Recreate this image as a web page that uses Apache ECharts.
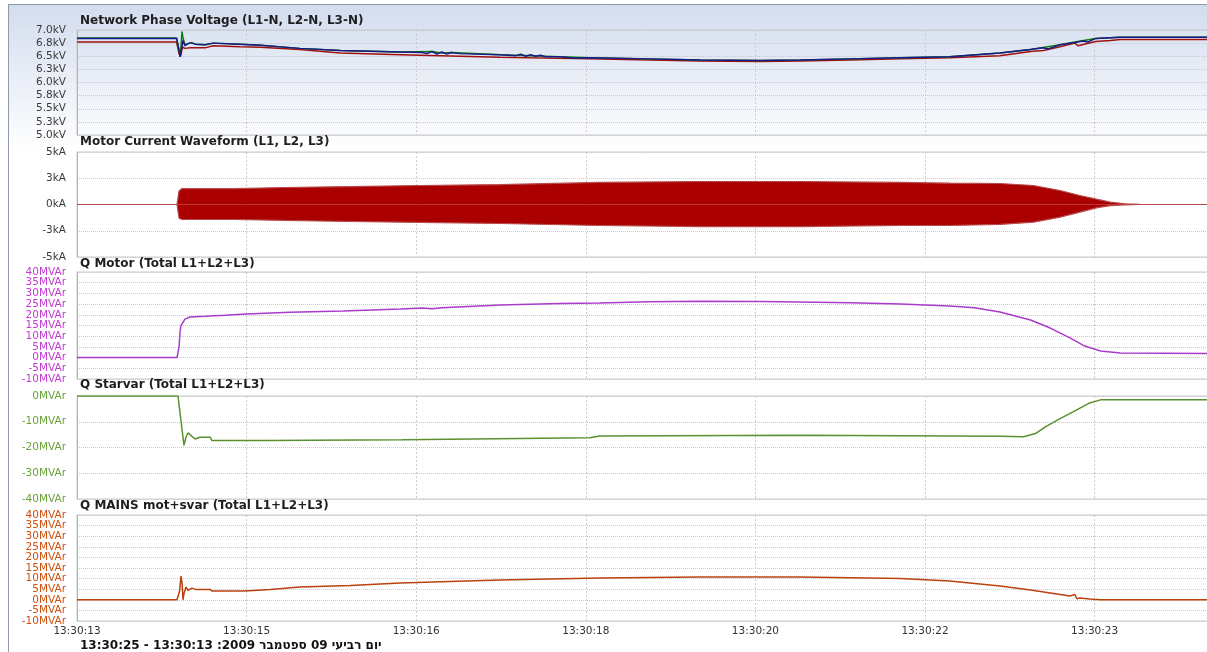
<!DOCTYPE html>
<html><head><meta charset="utf-8">
<script src="https://cdn.jsdelivr.net/npm/echarts@6/dist/echarts.min.js"></script>
<style>html,body{margin:0;padding:0;background:#fff}#c{width:1207px;height:652px}</style>
</head><body><div id="c"></div>
<script>
// ---------- axis / tick data ----------
const xTickLabels = ['13:30:13','13:30:15','13:30:16','13:30:18','13:30:20','13:30:22','13:30:23'];
const xTickStep = 1.72;      // seconds between labelled ticks
const xMax = 11.48;          // seconds shown
const voltTickLabels = ['5.0kV','5.3kV','5.5kV','5.8kV','6.0kV','6.3kV','6.5kV','6.8kV','7.0kV'];
const curTickLabels = ['-5kA','-3kA','0kA','3kA','5kA'];
const panelTitles = [
  'Network Phase Voltage (L1-N, L2-N, L3-N)',
  'Motor Current Waveform (L1, L2, L3)',
  'Q Motor (Total L1+L2+L3)',
  'Q Starvar (Total L1+L2+L3)',
  'Q MAINS mot+svar (Total L1+L2+L3)'
];
const footerText = 'יום רביעי 09 ספטמבר 2009: 13:30:13 - 13:30:25';

// ---------- series data (time in s from 13:30:13) ----------
const vL1T = [0, 1.01, 1.035, 1.05, 1.065, 1.075, 1.095, 1.126, 1.16, 1.2, 1.3, 1.38, 1.65, 1.86, 2.26, 2.67, 3.28, 3.6, 3.7, 3.8, 4.29, 4.9, 5.2, 5.81, 6.32, 6.93, 7.33, 7.84, 8.35, 8.85, 9.36, 9.67, 9.97, 10.12, 10.33, 10.58, 11.48];
const vL1 = [6.85, 6.85, 6.60, 6.55, 6.97, 6.85, 6.72, 6.74, 6.76, 6.73, 6.72, 6.75, 6.73, 6.71, 6.65, 6.61, 6.58, 6.59, 6.56, 6.57, 6.53, 6.49, 6.47, 6.45, 6.43, 6.42, 6.43, 6.45, 6.47, 6.49, 6.56, 6.63, 6.72, 6.77, 6.84, 6.86, 6.86];
const vL2T = [0, 1.01, 1.035, 1.045, 1.055, 1.075, 1.095, 1.126, 1.156, 1.197, 1.30, 1.38, 1.65, 1.86, 2.26, 2.67, 3.28, 3.50, 3.55, 3.60, 3.65, 3.70, 3.75, 3.80, 3.88, 4.29, 4.45, 4.5, 4.55, 4.6, 4.65, 4.7, 4.75, 4.9, 5.05, 5.2, 5.81, 6.32, 6.93, 7.33, 7.84, 8.35, 8.85, 9.36, 9.67, 9.80, 9.85, 9.97, 10.12, 10.2, 10.25, 10.33, 10.58, 11.48];
const vL2 = [6.84, 6.84, 6.62, 6.49, 6.58, 6.80, 6.70, 6.74, 6.76, 6.73, 6.72, 6.75, 6.73, 6.71, 6.65, 6.61, 6.58, 6.57, 6.55, 6.59, 6.54, 6.58, 6.54, 6.57, 6.55, 6.53, 6.51, 6.54, 6.50, 6.53, 6.50, 6.52, 6.49, 6.49, 6.46, 6.47, 6.45, 6.43, 6.42, 6.43, 6.45, 6.47, 6.49, 6.56, 6.63, 6.66, 6.64, 6.72, 6.76, 6.79, 6.77, 6.84, 6.86, 6.86];
const vL3T = [0, 1.01, 1.035, 1.05, 1.07, 1.095, 1.15, 1.2, 1.3, 1.38, 1.65, 1.86, 2.26, 2.67, 3.28, 4.29, 5.2, 5.81, 6.32, 6.93, 7.33, 7.84, 8.35, 8.85, 9.36, 9.67, 9.8, 9.82, 9.97, 10.12, 10.15, 10.33, 10.48, 10.58, 11.48];
const vL3 = [6.77, 6.77, 6.55, 6.50, 6.68, 6.65, 6.66, 6.66, 6.66, 6.70, 6.68, 6.67, 6.63, 6.56, 6.53, 6.48, 6.45, 6.43, 6.41, 6.40, 6.41, 6.43, 6.45, 6.47, 6.51, 6.59, 6.61, 6.58, 6.68, 6.75, 6.70, 6.78, 6.80, 6.82, 6.82];

const curT = [0, 1.014, 1.024, 1.035, 1.065, 1.60, 1.61, 2.11, 2.77, 3.48, 4.29, 5.30, 6.32, 7.33, 8.35, 8.85, 9.36, 9.70, 9.97, 10.17, 10.35, 10.48, 10.63, 10.78, 11.48];
const curUpper = [0, 0, 0.6, 1.3, 1.52, 1.52, 1.52, 1.62, 1.71, 1.81, 1.90, 2.10, 2.19, 2.19, 2.10, 2.03, 2.0, 1.81, 1.33, 0.86, 0.48, 0.22, 0.07, 0.02, 0];
const curLower = [0, 0, -0.6, -1.3, -1.43, -1.43, -1.52, -1.52, -1.62, -1.71, -1.81, -2.0, -2.10, -2.10, -2.0, -2.0, -1.90, -1.68, -1.21, -0.73, -0.29, -0.10, -0.03, 0, 0];

const qMotT = [0, 1.014, 1.035, 1.045, 1.055, 1.075, 1.095, 1.146, 1.3, 1.5, 1.72, 2.16, 2.7, 3.28, 3.5, 3.6, 3.7, 4.29, 4.9, 5.3, 5.8, 6.32, 6.93, 7.33, 7.84, 8.35, 8.85, 9.1, 9.36, 9.67, 9.87, 10.07, 10.22, 10.38, 10.58, 11.48];
const qMot = [0, 0, 5, 12, 15, 16.5, 18, 19, 19.3, 19.8, 20.4, 21.2, 21.8, 22.7, 23.2, 22.8, 23.3, 24.6, 25.3, 25.5, 26.1, 26.3, 26.2, 26.0, 25.6, 25.0, 24.1, 23.3, 21.3, 17.6, 13.8, 9.2, 5.4, 3.1, 2.1, 1.9];

const qSvT = [0, 1.024, 1.04, 1.065, 1.085, 1.105, 1.126, 1.16, 1.197, 1.247, 1.349, 1.369, 1.937, 1.95, 3.3, 3.32, 5.2, 5.3, 7.33, 9.36, 9.6, 9.72, 9.82, 9.97, 10.12, 10.27, 10.38, 11.48];
const qSv = [0, 0, -5, -13, -19.2, -16, -14.3, -15.5, -16.7, -16, -16, -17.3, -17.3, -17, -17, -16.5, -16.2, -15.5, -15.2, -15.6, -15.8, -14.6, -12, -8.8, -5.8, -2.7, -1.5, -1.5];

const qMainsT = [0, 1.014, 1.04, 1.055, 1.065, 1.075, 1.085, 1.105, 1.126, 1.146, 1.166, 1.2, 1.349, 1.37, 1.70, 1.72, 1.96, 2.26, 2.77, 3.28, 3.78, 4.29, 5.3, 6.32, 7.33, 8.35, 8.85, 9.36, 9.67, 9.87, 10.07, 10.12, 10.14, 10.17, 10.27, 10.38, 11.48];
const qMains = [0, 0, 4, 11.2, 8, 0, 3, 6, 4.5, 4, 5.5, 4.9, 4.9, 4.1, 4.1, 4.9, 4.9, 6, 6.7, 7.9, 8.6, 9.3, 10.3, 10.7, 10.7, 10, 8.9, 6.5, 4.6, 3.2, 1.8, 2.5, 0.5, 0.8, 0.4, 0, 0];

// ---------- build ----------
const pairs = (t, v) => t.map((x, i) => [x, v[i]]);
const FONT = '"DejaVu Sans", Verdana, sans-serif';
const gridBoxes = [
  {top: 30, height: 105},
  {top: 152, height: 105},
  {top: 272, height: 107},
  {top: 396, height: 103},
  {top: 515, height: 106}
];
const titleY = [21, 142, 264, 385, 506];

const grids = gridBoxes.map(g => ({left: 77, width: 1132, top: g.top, height: g.height,
  outerBoundsMode: 'none', containLabel: false,
  show: true, borderColor: '#c8c8c8', borderWidth: 1, backgroundColor: 'transparent'}));

const xAxes = gridBoxes.map((g, i) => ({
  type: 'value', gridIndex: i, min: 0, max: xMax, interval: xTickStep,
  axisLine: {show: false}, axisTick: {show: false},
  splitLine: {show: true, lineStyle: {color: '#cdcdcd', type: [2, 2], width: 1}},
  axisLabel: {show: i === 4, margin: 5, color: '#333', fontFamily: FONT, fontSize: 10.5,
    showMinLabel: true, formatter: v => xTickLabels[Math.round(v / xTickStep)] || ''}
}));

function yAxis(i, min, max, interval, color, formatter, showEnds) {
  return {type: 'value', gridIndex: i, min, max, interval,
    axisLine: {show: true, lineStyle: {color: '#b4b4b4'}}, axisTick: {show: false},
    splitLine: {show: true, lineStyle: {color: '#c8c8c8', type: 'dotted', width: 1}},
    axisLabel: {margin: 11, color, fontFamily: FONT, fontSize: 10.5, formatter,
      showMinLabel: showEnds, showMaxLabel: showEnds, hideOverlap: false, interval: 0}};
}
// companion axis that only labels the two end ticks (dense MVAr scales)
function endLabelAxis(i, min, max, interval, color) {
  return {type: 'value', gridIndex: i, min, max, interval, position: 'left',
    axisLine: {show: false}, axisTick: {show: false}, splitLine: {show: false},
    axisLabel: {margin: 11, color, fontFamily: FONT, fontSize: 10.5,
      showMinLabel: true, showMaxLabel: true, hideOverlap: false, interval: 0,
      formatter: v => (Math.abs(v - min) < 1e-6 || Math.abs(v - max) < 1e-6) ? v + 'MVAr' : ''}};
}
const yAxes = [
  yAxis(0, 5, 7, 0.25, '#3a3a3a', v => voltTickLabels[Math.round((v - 5) / 0.25)], true),
  yAxis(1, -5, 5, 2.5, '#3a3a3a', v => curTickLabels[Math.round((v + 5) / 2.5)], true),
  yAxis(2, -10, 40, 5, '#c43cd4', '{value}MVAr', false),
  yAxis(3, -40, 0, 10, '#6aa23a', '{value}MVAr', true),
  yAxis(4, -10, 40, 5, '#d0500f', '{value}MVAr', false),
  endLabelAxis(2, -10, 40, 5, '#c43cd4'),
  endLabelAxis(4, -10, 40, 5, '#d0500f')
];

function line(i, data, color, width, extra) {
  return Object.assign({type: 'line', xAxisIndex: i, yAxisIndex: i, data, showSymbol: false,
    symbol: 'none', animation: false, silent: true,
    lineStyle: {color, width}}, extra || {});
}

const series = [
  line(0, pairs(vL3T, vL3), '#a01010', 1.5),
  line(0, pairs(vL1T, vL1), '#0b7d0b', 1.5),
  line(0, pairs(vL2T, vL2), '#1a1a8a', 1.5),
  line(1, pairs(curT, curUpper), '#b84a4a', 1.2, {areaStyle: {color: '#aa0000', opacity: 1}}),
  line(1, pairs(curT, curLower), '#b84a4a', 1.2, {areaStyle: {color: '#aa0000', opacity: 1}}),
  line(2, pairs(qMotT, qMot), '#a93ccb', 1.5),
  line(3, pairs(qSvT, qSv), '#5a9030', 1.5),
  line(4, pairs(qMainsT, qMains), '#bb420f', 1.5)
];

const graphics = [
  {type: 'rect', z: -10, shape: {x: 8, y: 4, width: 1199, height: 146},
    style: {fill: new echarts.graphic.LinearGradient(0, 0, 0, 1, [
      {offset: 0, color: '#d3dcee'}, {offset: 1, color: '#ffffff'}])}},
  {type: 'line', z: 10, shape: {x1: 8, y1: 4.5, x2: 1207, y2: 4.5}, style: {stroke: '#8f9aab', lineWidth: 1}},
  {type: 'line', z: 10, shape: {x1: 8.5, y1: 4, x2: 8.5, y2: 652}, style: {stroke: '#8f9aab', lineWidth: 1}}
];
panelTitles.forEach((t, i) => graphics.push({type: 'text', z: 10, x: 80, y: titleY[i],
  style: {text: t, fill: '#1e1e1e', font: 'bold 12px ' + FONT, verticalAlign: 'middle', align: 'left'}}));
graphics.push({type: 'text', z: 10, x: 80, y: 646,
  style: {text: '\u202B' + footerText + '\u202C', fill: '#111', font: 'bold 12px ' + FONT, verticalAlign: 'middle', align: 'left'}});

const chart = echarts.init(document.getElementById('c'), null, {renderer: 'canvas'});
chart.setOption({
  animation: false,
  backgroundColor: '#ffffff',
  grid: grids, xAxis: xAxes, yAxis: yAxes, series, graphic: graphics
});
</script></body></html>
